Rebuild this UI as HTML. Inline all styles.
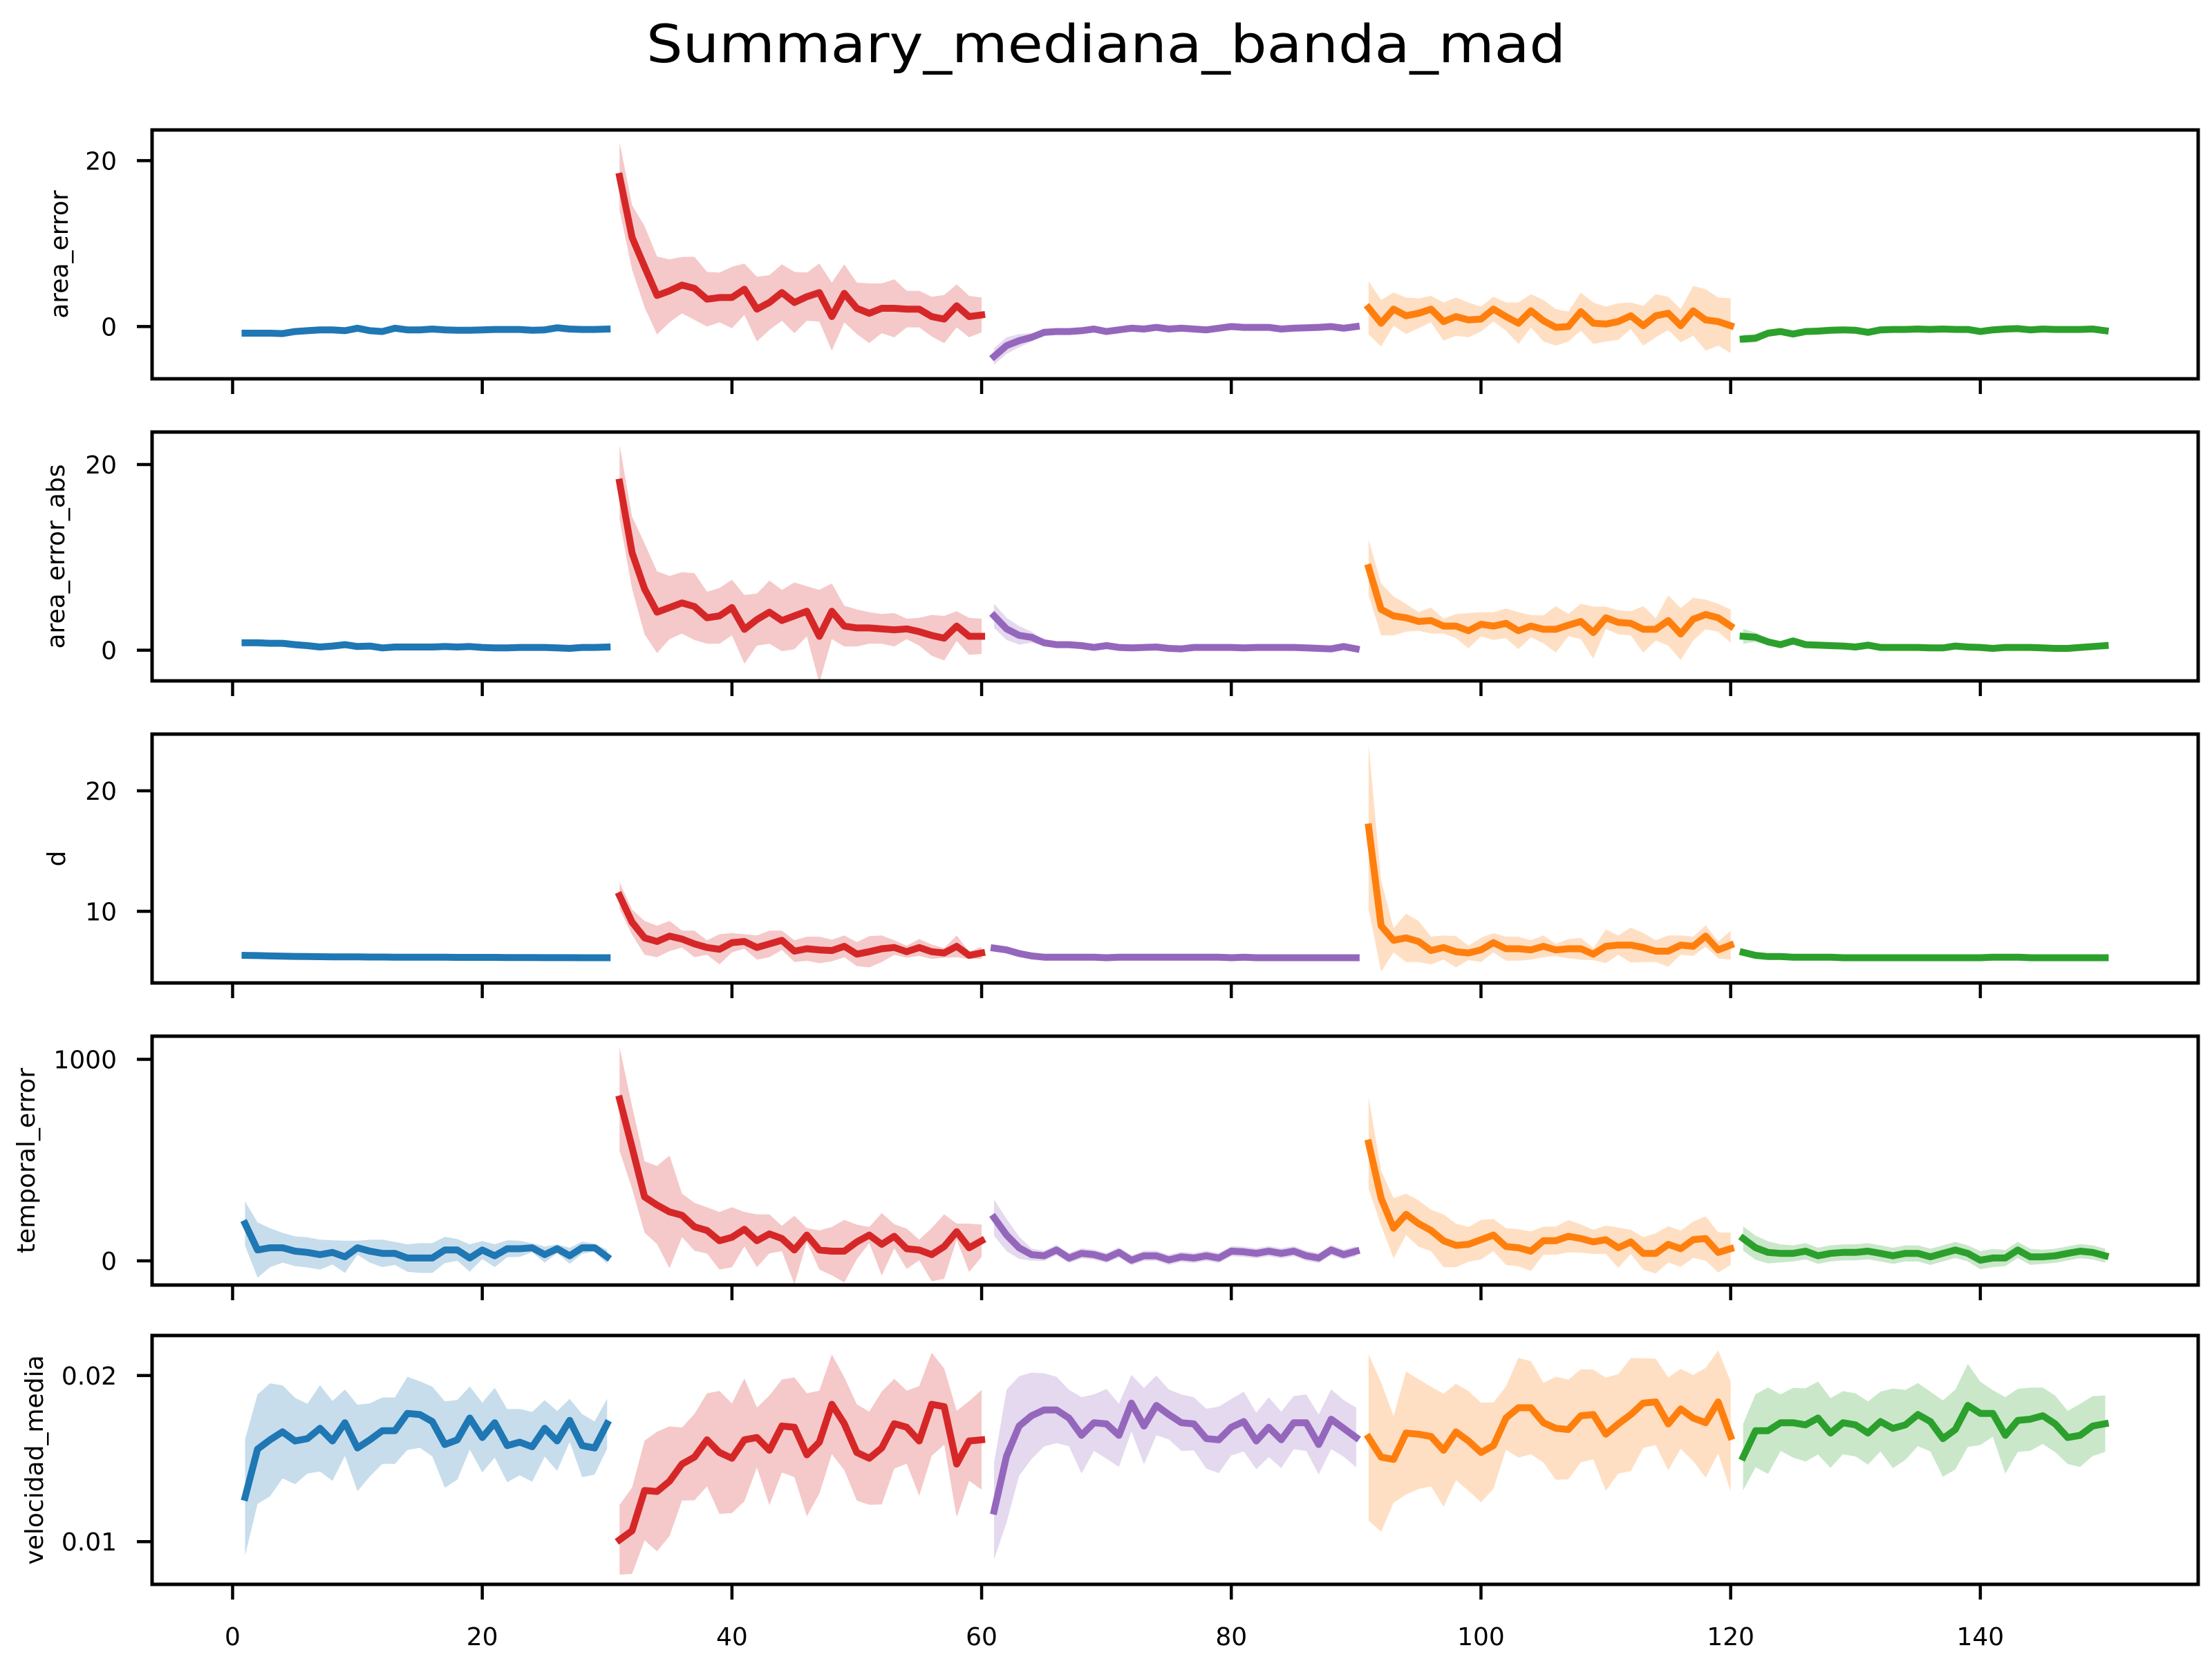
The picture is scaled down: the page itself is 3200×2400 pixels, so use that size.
<!DOCTYPE html>
<html><head><meta charset="utf-8"><style>
html,body{margin:0;padding:0;background:#fff;}
svg{display:block;font-family:"DejaVu Sans","Liberation Sans",sans-serif;}
</style></head><body>
<svg id="fig" xmlns="http://www.w3.org/2000/svg" width="3200" height="2400" viewBox="0 0 3200 2400">
<rect x="0" y="0" width="3200" height="2400" fill="#fff"/>
<text x="1600" y="90" text-anchor="middle" font-size="76" textLength="1330" lengthAdjust="spacingAndGlyphs">Summary_mediana_banda_mad</text>
</svg>
<script>
// ---- data ----
const groupStart = [1, 31, 61, 91, 121];
const groupColors = ["#1f77b4", "#d62728", "#9467bd", "#ff7f0e", "#2ca02c"];
const xTicks = [0, 20, 40, 60, 80, 100, 120, 140];

// area_error
const ae_b = [-0.8,-0.8,-0.8,-0.85,-0.6,-0.5,-0.4,-0.4,-0.5,-0.2,-0.5,-0.6,-0.2,-0.4,-0.4,-0.3,-0.4,-0.45,-0.45,-0.4,-0.35,-0.35,-0.35,-0.45,-0.4,-0.15,-0.3,-0.35,-0.35,-0.3];
const ae_b_s = [0.3,0.3,0.3,0.3,0.2,0.2,0.2,0.2,0.2,0.2,0.2,0.2,0.2,0.2,0.2,0.2,0.2,0.2,0.2,0.2,0.2,0.2,0.2,0.2,0.2,0.2,0.2,0.2,0.2,0.2];
const ae_r = [18.1,10.75,7.2,3.75,4.3,5.0,4.6,3.3,3.5,3.5,4.5,2.1,2.9,4.1,2.9,3.6,4.1,1.2,4.0,2.2,1.6,2.2,2.2,2.1,2.1,1.2,0.9,2.5,1.2,1.4];
const ae_r_s = [4.1,3.9,4.9,4.7,3.8,3.4,3.8,3.3,3.0,3.7,3.1,3.9,3.3,3.4,3.7,2.9,3.5,4.1,3.5,3.1,3.6,3.0,3.5,2.2,2.2,2.4,2.9,2.6,2.5,2.1];
const ae_p = [-3.6,-2.3,-1.7,-1.3,-0.7,-0.6,-0.6,-0.5,-0.3,-0.6,-0.4,-0.2,-0.3,-0.1,-0.3,-0.2,-0.3,-0.4,-0.2,0,-0.1,-0.1,-0.1,-0.3,-0.2,-0.15,-0.1,0,-0.2,0];
const ae_p_s = [1.0,1.0,0.8,0.5,0.3,0.2,0.2,0.2,0.2,0.2,0.2,0.2,0.2,0.2,0.2,0.2,0.2,0.2,0.2,0.2,0.2,0.2,0.2,0.2,0.2,0.2,0.2,0.2,0.2,0.2];
const ae_o = [2.25,0.4,2.1,1.3,1.6,2.1,0.6,1.2,0.8,0.9,2.1,1.2,0.4,1.9,0.7,-0.1,0,1.8,0.4,0.3,0.6,1.3,0.1,1.3,1.6,0.1,1.9,0.8,0.6,0.1];
const ae_o_s = [3.2,2.8,2.0,2.2,1.8,1.6,2.3,2.3,2.1,1.5,1.5,1.7,2.5,2.0,2.5,2.2,1.8,2.3,2.5,2.1,2.2,1.6,2.4,2.6,2.0,2.0,3.0,3.7,2.9,3.3];
const ae_g = [-1.5,-1.4,-0.8,-0.6,-0.9,-0.6,-0.55,-0.45,-0.4,-0.45,-0.7,-0.4,-0.35,-0.35,-0.3,-0.35,-0.3,-0.35,-0.35,-0.6,-0.4,-0.3,-0.25,-0.4,-0.3,-0.35,-0.35,-0.35,-0.3,-0.5];
const ae_g_s = [0.5,0.5,0.4,0.3,0.2,0.2,0.2,0.2,0.2,0.2,0.2,0.2,0.2,0.2,0.2,0.2,0.2,0.2,0.2,0.2,0.2,0.2,0.2,0.2,0.2,0.2,0.2,0.2,0.2,0.2];

// area_error_abs
const aa_b = [0.8,0.8,0.75,0.75,0.6,0.5,0.35,0.45,0.6,0.4,0.45,0.25,0.35,0.35,0.35,0.35,0.4,0.35,0.4,0.3,0.25,0.25,0.3,0.3,0.3,0.25,0.2,0.3,0.3,0.35];
const aa_b_s = [0.3,0.3,0.3,0.3,0.2,0.2,0.2,0.2,0.2,0.2,0.2,0.2,0.2,0.2,0.2,0.2,0.2,0.2,0.2,0.2,0.2,0.2,0.2,0.2,0.2,0.2,0.2,0.2,0.2,0.2];
const aa_r = [18.1,10.5,6.6,4.1,4.6,5.1,4.7,3.5,3.7,4.6,2.25,3.3,4.1,3.2,3.7,4.2,1.5,4.2,2.6,2.4,2.4,2.3,2.2,2.3,2.0,1.6,1.3,2.6,1.5,1.5];
const aa_r_s = [4.0,3.9,4.9,4.4,3.4,3.3,3.6,2.8,3.0,3.0,3.7,2.8,3.4,3.3,3.6,2.7,5.0,3.0,2.2,2.0,1.7,1.6,1.8,1.1,1.5,2.2,2.4,1.6,2.0,1.9];
const aa_p = [3.7,2.3,1.6,1.4,0.8,0.6,0.6,0.5,0.3,0.5,0.3,0.25,0.3,0.35,0.2,0.15,0.3,0.3,0.3,0.3,0.25,0.3,0.3,0.3,0.3,0.25,0.2,0.15,0.4,0.15];
const aa_p_s = [1.3,1.2,1.0,0.6,0.3,0.2,0.2,0.2,0.2,0.2,0.2,0.2,0.2,0.2,0.2,0.2,0.2,0.2,0.2,0.2,0.2,0.2,0.2,0.2,0.2,0.2,0.2,0.2,0.2,0.2];
const aa_o = [8.9,4.4,3.7,3.5,3.1,3.2,2.6,2.6,2.1,2.8,2.6,2.9,2.1,2.6,2.25,2.25,2.7,3.1,1.9,3.5,3.0,2.9,2.25,2.25,3.2,1.75,3.35,3.85,3.5,2.6];
const aa_o_s = [3.0,2.8,2.1,1.5,1.0,1.4,0.8,1.3,1.9,1.3,1.5,1.6,2.0,1.2,1.5,2.5,1.2,1.9,2.8,1.2,1.3,1.3,2.5,1.2,2.7,2.8,2.3,1.6,1.5,1.8];
const aa_g = [1.5,1.4,0.9,0.6,1.0,0.6,0.55,0.5,0.45,0.35,0.55,0.3,0.3,0.3,0.3,0.25,0.25,0.45,0.35,0.3,0.2,0.3,0.3,0.3,0.25,0.2,0.2,0.3,0.4,0.5];
const aa_g_s = [0.8,0.5,0.3,0.2,0.2,0.2,0.2,0.2,0.2,0.2,0.2,0.2,0.2,0.2,0.2,0.2,0.2,0.2,0.2,0.2,0.2,0.2,0.2,0.2,0.2,0.2,0.2,0.2,0.2,0.2];

// d
const d_b = [6.35,6.33,6.3,6.28,6.26,6.25,6.24,6.23,6.22,6.22,6.21,6.21,6.2,6.2,6.2,6.19,6.19,6.18,6.18,6.18,6.18,6.17,6.17,6.17,6.16,6.16,6.16,6.15,6.15,6.15];
const d_b_s = [0.1,0.08,0.06,0.05,0.05,0.05,0.05,0.05,0.05,0.05,0.05,0.05,0.05,0.05,0.05,0.05,0.05,0.05,0.05,0.05,0.05,0.05,0.05,0.05,0.05,0.05,0.05,0.05,0.05,0.05];
const d_r = [11.3,9.1,7.8,7.5,7.95,7.7,7.3,7.0,6.85,7.4,7.5,7.0,7.3,7.6,6.7,6.9,6.8,6.75,7.1,6.45,6.65,6.9,7.0,6.65,7.0,6.65,6.55,7.1,6.35,6.55];
const d_r_s = [1.1,1.05,1.4,1.3,1.25,0.7,1.1,0.6,1.25,0.8,0.6,1.0,1.1,0.8,0.9,1.0,1.1,0.9,0.9,1.0,1.3,1.1,0.6,0.5,0.7,0.6,0.4,0.9,0.3,0.5];
const d_p = [6.95,6.8,6.5,6.3,6.2,6.2,6.2,6.2,6.2,6.15,6.2,6.2,6.2,6.2,6.2,6.2,6.2,6.2,6.2,6.15,6.2,6.15,6.15,6.15,6.15,6.15,6.15,6.15,6.15,6.15];
const d_p_s = [0.3,0.2,0.1,0.08,0.05,0.05,0.05,0.05,0.05,0.05,0.05,0.05,0.05,0.05,0.05,0.05,0.05,0.05,0.05,0.05,0.05,0.05,0.05,0.05,0.05,0.05,0.05,0.05,0.05,0.05];
const d_o = [17.0,8.8,7.6,7.8,7.5,6.75,7.0,6.65,6.55,6.8,7.4,6.9,6.9,6.8,7.1,6.8,6.9,6.9,6.45,7.1,7.2,7.2,7.0,6.7,6.7,7.2,7.1,7.95,6.8,7.2];
const d_o_s = [6.8,3.8,1.0,2.0,1.7,1.15,1.0,1.3,0.6,1.0,0.8,1.0,1.0,0.8,0.9,0.5,0.8,0.9,0.5,1.4,0.8,1.45,1.2,0.9,1.3,0.8,0.8,0.9,0.7,1.2];
const d_g = [6.6,6.35,6.25,6.25,6.2,6.2,6.2,6.2,6.15,6.15,6.15,6.15,6.15,6.15,6.15,6.15,6.15,6.15,6.15,6.15,6.2,6.2,6.2,6.15,6.15,6.15,6.15,6.15,6.15,6.15];
const d_g_s = [0.15,0.1,0.08,0.06,0.05,0.05,0.05,0.05,0.05,0.05,0.05,0.05,0.05,0.05,0.05,0.05,0.05,0.05,0.05,0.05,0.05,0.05,0.05,0.05,0.05,0.05,0.05,0.05,0.05,0.05];

// temporal_error
const te_b = [185,54,65,65,48,42,31,42,20,65,48,37,37,14,14,14,54,54,14,54,25,60,60,65,31,60,25,65,65,20];
const te_b_s = [110,137,97,74,74,75,74,60,80,35,57,68,57,68,74,74,65,54,68,45,57,42,40,22,40,22,40,30,20,35];
const te_r = [803,563,317,277,243,226,169,151,100,117,157,100,134,111,54,128,54,48,48,94,128,82,122,60,54,31,71,145,65,100];
const te_r_s = [257,205,177,194,280,108,119,115,143,149,86,131,97,63,170,35,97,120,155,86,40,155,60,100,51,132,160,40,120,80];
const te_p = [214,128,65,31,25,54,14,37,31,14,42,3,25,25,5,20,14,25,14,48,45,37,48,37,48,25,14,54,31,48];
const te_p_s = [90,80,55,30,25,25,25,25,25,25,25,25,25,25,25,25,25,25,25,25,25,25,25,25,25,25,25,25,25,25];
const te_o = [585,311,162,231,185,151,100,77,82,105,128,71,65,48,100,100,122,111,94,105,65,94,37,37,82,60,105,111,42,60];
const te_o_s = [226,137,149,103,115,103,131,108,86,98,80,91,92,98,70,70,80,70,60,70,100,60,80,100,90,90,90,110,100,80];
const te_g = [111,65,42,37,37,48,25,37,42,42,48,37,25,37,37,20,37,54,37,3,14,14,54,20,20,25,37,48,42,25];
const te_g_s = [60,60,55,45,40,40,40,40,40,40,40,40,40,40,40,40,40,40,40,45,45,40,40,40,35,35,35,35,35,35];

// velocidad_media
const vm_b = [0.01267,0.01557,0.01613,0.01661,0.01606,0.0162,0.01682,0.01606,0.01716,0.01564,0.01613,0.01668,0.01668,0.01772,0.01765,0.01723,0.01585,0.01613,0.01744,0.01627,0.01716,0.01578,0.01599,0.01571,0.01682,0.01606,0.0173,0.01578,0.01564,0.0171];
const vm_b_s = [0.0035,0.0033,0.0034,0.0028,0.0026,0.0021,0.0026,0.0024,0.002,0.0026,0.0022,0.002,0.002,0.0022,0.002,0.0021,0.0026,0.0024,0.0019,0.0021,0.0021,0.0022,0.002,0.0021,0.0017,0.0018,0.0013,0.0019,0.0016,0.0015];
const vm_r = [0.01011,0.01066,0.01308,0.01302,0.01364,0.01467,0.01509,0.01613,0.01537,0.01502,0.01613,0.01627,0.0155,0.01696,0.01689,0.01523,0.01599,0.01827,0.0171,0.01537,0.01502,0.01564,0.0171,0.01689,0.01606,0.01827,0.01813,0.01467,0.01606,0.01613];
const vm_r_s = [0.0021,0.0026,0.003,0.0036,0.0033,0.0022,0.0026,0.0028,0.0037,0.0033,0.0037,0.0018,0.0033,0.0028,0.003,0.0037,0.0031,0.003,0.0028,0.0029,0.0028,0.0034,0.0027,0.0022,0.0033,0.0031,0.0023,0.0032,0.0024,0.003];
const vm_p = [0.01184,0.01516,0.01696,0.01758,0.01793,0.01793,0.01744,0.0164,0.01716,0.01709,0.0164,0.01834,0.01696,0.0182,0.01765,0.01716,0.01709,0.0162,0.01613,0.01689,0.01723,0.01606,0.01689,0.01613,0.01716,0.01716,0.01585,0.01737,0.01682,0.01627];
const vm_p_s = [0.0029,0.004,0.003,0.0026,0.0022,0.002,0.0017,0.0023,0.0017,0.0021,0.0019,0.0017,0.0023,0.0018,0.0015,0.0017,0.0016,0.0018,0.002,0.0017,0.0018,0.0017,0.0018,0.0017,0.0016,0.0017,0.0018,0.0018,0.0017,0.0018];
const vm_o = [0.01627,0.01509,0.01495,0.01654,0.01647,0.01633,0.0155,0.01661,0.01606,0.01537,0.01578,0.01744,0.01806,0.01806,0.01716,0.01682,0.01675,0.01758,0.01765,0.01647,0.01709,0.01765,0.01834,0.01841,0.01709,0.01799,0.01744,0.01716,0.01841,0.01633];
const vm_o_s = [0.005,0.0045,0.0026,0.0037,0.0033,0.003,0.0034,0.0029,0.003,0.003,0.0026,0.0019,0.003,0.0028,0.0024,0.0031,0.003,0.0028,0.0027,0.0034,0.003,0.0034,0.0027,0.0026,0.0028,0.0024,0.0026,0.0033,0.0031,0.0033];
const vm_g = [0.01509,0.01668,0.01668,0.01716,0.01716,0.01703,0.01744,0.01654,0.01716,0.01703,0.01654,0.01723,0.01682,0.01703,0.01765,0.01723,0.0162,0.01675,0.0182,0.01772,0.01772,0.0164,0.0173,0.01737,0.01758,0.01709,0.01627,0.0164,0.01696,0.0171];
const vm_g_s = [0.002,0.0022,0.0026,0.0017,0.0021,0.0022,0.0022,0.0021,0.0019,0.0019,0.0019,0.0018,0.0024,0.0021,0.0019,0.0018,0.0023,0.0024,0.0025,0.0019,0.0014,0.0023,0.0019,0.0019,0.0017,0.0017,0.0016,0.0019,0.0018,0.0017];

const panelNames = ["area_error", "area_error_abs", "d", "temporal_error", "velocidad_media"];
const panelMeds = [[ae_b,ae_r,ae_p,ae_o,ae_g],[aa_b,aa_r,aa_p,aa_o,aa_g],[d_b,d_r,d_p,d_o,d_g],[te_b,te_r,te_p,te_o,te_g],[vm_b,vm_r,vm_p,vm_o,vm_g]];
const panelSpreads = [[ae_b_s,ae_r_s,ae_p_s,ae_o_s,ae_g_s],[aa_b_s,aa_r_s,aa_p_s,aa_o_s,aa_g_s],[d_b_s,d_r_s,d_p_s,d_o_s,d_g_s],[te_b_s,te_r_s,te_p_s,te_o_s,te_g_s],[vm_b_s,vm_r_s,vm_p_s,vm_o_s,vm_g_s]];
const yTickVals = [[0,20],[0,20],[10,20],[0,1000],[0.01,0.02]];
const yTickLabels = [["0","20"],["0","20"],["10","20"],["0","1000"],["0.01","0.02"]];
const yDomains = [[-6.3,23.7],[-3.3,23.5],[4.06,24.7],[-120,1115],[0.00743,0.02241]];
const xDomain = [-6.45, 157.45];

// ---- layout ----
const NS = "http://www.w3.org/2000/svg";
const svg = document.getElementById("fig");
const L = 220, R = 3180;
const panelTops = [188, 625, 1062, 1499, 1932];
const PH = 360;
const ylabelX = [86, 81, 82, 38, 50];
function sx(v){ return L + (v - xDomain[0]) / (xDomain[1] - xDomain[0]) * (R - L); }
function mk(tag, attrs, parent){
  const e = document.createElementNS(NS, tag);
  for (const k in attrs) e.setAttribute(k, attrs[k]);
  (parent || svg).appendChild(e);
  return e;
}

for (let p = 0; p < 5; p++) {
  const top = panelTops[p], bot = top + PH;
  const dom = yDomains[p];
  const sy = v => bot - (v - dom[0]) / (dom[1] - dom[0]) * PH;
  const g = mk("g", {});
  
  
  const cid = "clip" + p;
  const cp = mk("clipPath", {id: cid}, g);
  mk("rect", {x: L, y: top, width: R - L, height: PH}, cp);
  const plot = mk("g", {"clip-path": "url(#" + cid + ")"}, g);
  for (let s = 0; s < 5; s++) {
    const med = panelMeds[p][s], sp = panelSpreads[p][s];
    let up = "", lo = "", ln = "";
    for (let i = 0; i < med.length; i++) {
      const x = sx(groupStart[s] + i);
      up += (i ? " L" : "M") + x.toFixed(1) + "," + sy(med[i] + sp[i]).toFixed(1);
      ln += (i ? " L" : "M") + x.toFixed(1) + "," + sy(med[i]).toFixed(1);
    }
    for (let i = med.length - 1; i >= 0; i--) {
      lo += " L" + sx(groupStart[s] + i).toFixed(1) + "," + sy(med[i] - sp[i]).toFixed(1);
    }
    const band = mk("path", {d: up + lo + " Z", fill: groupColors[s], "fill-opacity": "0.25", stroke: "none"}, plot);
    
    
    const line = mk("path", {d: ln, fill: "none", stroke: groupColors[s], "stroke-width": "10", "stroke-linejoin": "round", "stroke-linecap": "square"}, plot);
    
    
  }
  const frame = mk("rect", {x: L, y: top, width: R - L, height: PH, fill: "none", stroke: "#000", "stroke-width": "5"}, g);
  
  
  for (let t = 0; t < yTickVals[p].length; t++) {
    const y = sy(yTickVals[p][t]);
    const tk = mk("line", {x1: L - 22, x2: L, y1: y, y2: y, stroke: "#000", "stroke-width": "4.5"}, g);
    
    
    const tl = mk("text", {x: 169, y: y + 13, "text-anchor": "end", "font-size": "36"}, g);
    tl.textContent = yTickLabels[p][t];
    
    
  }
  for (let t = 0; t < xTicks.length; t++) {
    const x = sx(xTicks[t]);
    const tk = mk("line", {x1: x, x2: x, y1: bot, y2: bot + 22, stroke: "#000", "stroke-width": "4.5"}, g);
    
    
    if (p === 4) {
      const tl = mk("text", {x: x, y: 2380, "text-anchor": "middle", "font-size": "36"}, g);
      tl.textContent = String(xTicks[t]);
      
      
    }
  }
  const yl = mk("text", {x: ylabelX[p], y: top + PH / 2, "text-anchor": "middle", "font-size": "36", transform: "rotate(-90 " + ylabelX[p] + " " + (top + PH / 2) + ")", dy: "12"}, g);
  yl.textContent = panelNames[p];
  
  
}
</script>
</body></html>
